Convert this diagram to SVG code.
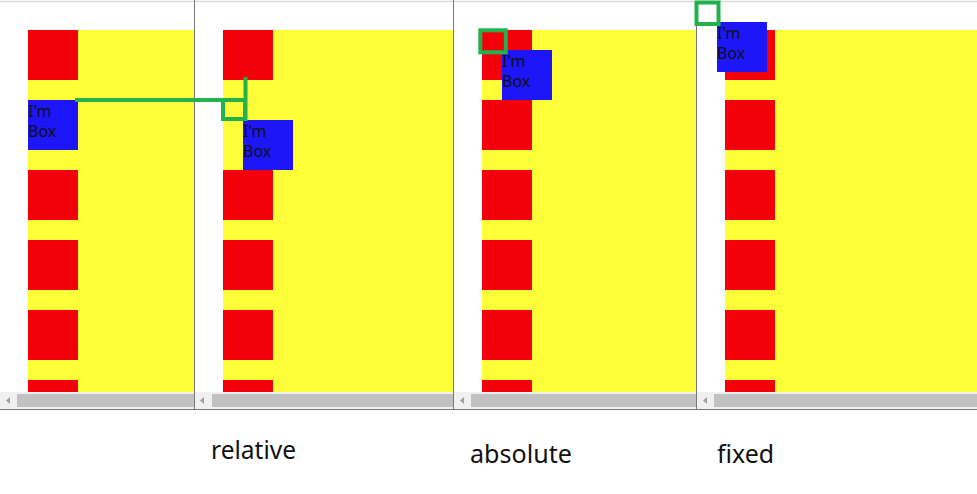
<svg xmlns="http://www.w3.org/2000/svg" width="977" height="494" viewBox="0 0 977 494">
<style>
.y{fill:#fdfd38}
.r{fill:#f4000b}
.b{fill:#1c16f9}
.bt{font-family:"Noto Sans","Open Sans",sans-serif;font-size:16px;fill:#111}
.div{stroke:#777;stroke-width:1}
.sb{fill:#f0f0f0}
.th{fill:#c1c1c1}
.ar{fill:#a0a0a0}
.g{fill:none;stroke:#22b14c;stroke-width:4}
.lbl{font-family:"Noto Sans","Open Sans",sans-serif;font-size:26px;fill:#111}
</style>
<defs>
<g id="reds">
<rect class="r" x="0" y="30" width="50" height="50"/>
<rect class="r" x="0" y="170" width="50" height="50"/>
<rect class="r" x="0" y="240" width="50" height="50"/>
<rect class="r" x="0" y="310" width="50" height="50"/>
<rect class="r" x="0" y="380" width="50" height="12"/>
</g>
</defs>
<rect width="977" height="494" fill="#fff"/>
<line x1="0" y1="1.5" x2="977" y2="1.5" stroke="#dadada" stroke-width="1.5"/>

<g id="panel-static">
<rect class="y" x="28" y="30" width="166" height="362"/>
<use href="#reds" x="28"/>
<rect class="b" x="28" y="100" width="50" height="50"/>
<text class="bt" x="28" y="117">I'm</text>
<text class="bt" x="28" y="137">Box</text>
<rect class="sb" x="0" y="392" width="194" height="17"/>
<rect class="th" x="17" y="394" width="177" height="13"/>
<polygon class="ar" points="6,400.5 10,397 10,404"/>
</g>

<g id="panel-relative">
<rect class="y" x="223" y="30" width="230" height="362"/>
<use href="#reds" x="223"/>
<rect class="b" x="243" y="120" width="50" height="50"/>
<text class="bt" x="243" y="137">I'm</text>
<text class="bt" x="243" y="157">Box</text>
<rect class="sb" x="195" y="392" width="258" height="17"/>
<rect class="th" x="212" y="394" width="241" height="13"/>
<polygon class="ar" points="200,400.5 204,397 204,404"/>
</g>

<g id="panel-absolute">
<rect class="y" x="482" y="30" width="214" height="362"/>
<use href="#reds" x="482"/>
<rect class="r" x="482" y="100" width="50" height="50"/>
<rect class="b" x="502" y="50" width="50" height="50"/>
<text class="bt" x="502" y="67">I'm</text>
<text class="bt" x="502" y="87">Box</text>
<rect class="g" x="480.3" y="30.3" width="25.5" height="22"/>
<rect class="sb" x="454" y="392" width="242" height="17"/>
<rect class="th" x="471" y="394" width="225" height="13"/>
<polygon class="ar" points="460,400.5 464,397 464,404"/>
</g>

<g id="panel-fixed">
<rect class="y" x="725" y="30" width="252" height="362"/>
<use href="#reds" x="725"/>
<rect class="r" x="725" y="100" width="50" height="50"/>
<rect class="b" x="717" y="22" width="50" height="50"/>
<text class="bt" x="717" y="39">I'm</text>
<text class="bt" x="717" y="59">Box</text>
<rect class="g" x="696.5" y="2.5" width="22" height="21.5" stroke-width="5"/>
<rect class="sb" x="697" y="392" width="280" height="17"/>
<rect class="th" x="714" y="394" width="263" height="13"/>
<polygon class="ar" points="703,400.5 707,397 707,404"/>
</g>

<g id="frame">
<line class="div" x1="194.5" y1="0" x2="194.5" y2="409"/>
<line class="div" x1="453.5" y1="0" x2="453.5" y2="409"/>
<line class="div" x1="696.5" y1="24" x2="696.5" y2="409"/>
<line x1="0" y1="409.5" x2="977" y2="409.5" stroke="#777" stroke-width="1"/>
</g>

<g id="connectors">
<line class="g" x1="75" y1="100" x2="223" y2="100"/>
<rect class="g" x="223" y="100" width="22" height="19"/>
<line class="g" x1="245.5" y1="77" x2="245.5" y2="121"/>
</g>

<g id="labels">
<text class="lbl" x="211" y="459" textLength="85" lengthAdjust="spacingAndGlyphs">relative</text>
<text class="lbl" x="470" y="463" textLength="102" lengthAdjust="spacingAndGlyphs">absolute</text>
<text class="lbl" x="717" y="463" textLength="57" lengthAdjust="spacingAndGlyphs">fixed</text>
</g>
</svg>
